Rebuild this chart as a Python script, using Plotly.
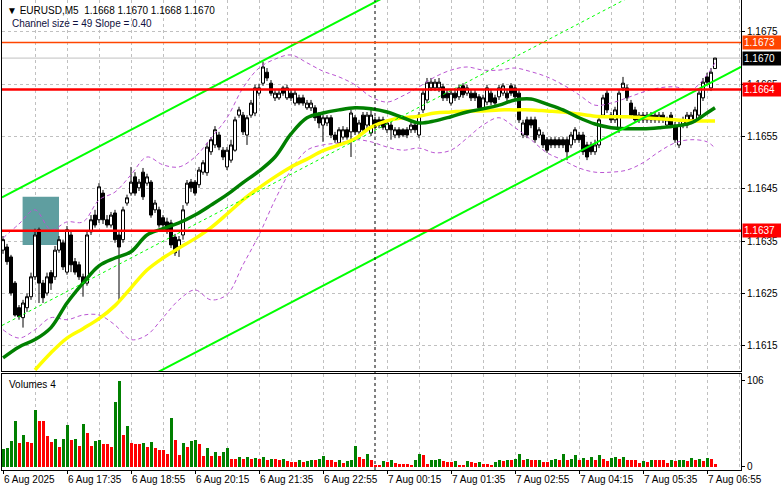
import plotly.graph_objects as go

# ---------------- DATA (EURUSD, M5) ----------------
opens = [1.16333,1.16339,1.16320,1.16270,1.16223,1.16204,1.16223,1.16244,1.16282,1.16372,
         1.16270,1.16251,1.16290,1.16282,1.16333,1.16347,1.16291,1.16362,1.16311,1.16305,
         1.16282,1.16270,1.16368,1.16400,1.16391,1.16442,1.16391,1.16381,1.16404,1.16362,
         1.16353,1.16423,1.16442,1.16473,1.16452,1.16482,1.16461,1.16463,1.16410,1.16410,
         1.16395,1.16387,1.16385,1.16358,1.16339,1.16362,1.16423,1.16463,1.16463,1.16458,
         1.16482,1.16481,1.16521,1.16534,1.16553,1.16524,1.16492,1.16505,1.16524,1.16591,
         1.16591,1.16553,1.16591,1.16595,1.16633,1.16652,1.16673,1.16652,1.16624,1.16624,
         1.16643,1.16624,1.16633,1.16614,1.16624,1.16624,1.16605,1.16605,1.16605,1.16591,
         1.16572,1.16576,1.16586,1.16553,1.16538,1.16549,1.16563,1.16559,1.16586,1.16559,
         1.16591,1.16572,1.16557,1.16582,1.16582,1.16582,1.16563,1.16572,1.16553,1.16563,
         1.16563,1.16563,1.16563,1.16572,1.16553,1.16601,1.16620,1.16643,1.16643,1.16643,
         1.16645,1.16633,1.16614,1.16633,1.16626,1.16647,1.16633,1.16633,1.16633,1.16626,
         1.16605,1.16616,1.16633,1.16624,1.16626,1.16633,1.16633,1.16647,1.16643,1.16633,
         1.16553,1.16582,1.16582,1.16582,1.16553,1.16553,1.16544,1.16544,1.16544,1.16544,
         1.16544,1.16544,1.16534,1.16544,1.16553,1.16553,1.16534,1.16534,1.16521,1.16534,
         1.16591,1.16633,1.16591,1.16582,1.16563,1.16643,1.16643,1.16614,1.16601,1.16582,
         1.16591,1.16591,1.16591,1.16591,1.16582,1.16591,1.16572,1.16591,1.16572,1.16534,
         1.16572,1.16572,1.16582,1.16582,1.16591,1.16624,1.16664,1.16643,1.16680]
highs = [1.16360,1.16345,1.16324,1.16274,1.16228,1.16238,1.16250,1.16290,1.16374,1.16376,
         1.16276,1.16290,1.16295,1.16341,1.16360,1.16353,1.16379,1.16368,1.16318,1.16311,
         1.16288,1.16368,1.16400,1.16410,1.16461,1.16448,1.16400,1.16406,1.16410,1.16368,
         1.16416,1.16439,1.16492,1.16482,1.16469,1.16490,1.16479,1.16467,1.16429,1.16416,
         1.16400,1.16395,1.16391,1.16364,1.16360,1.16419,1.16467,1.16469,1.16467,1.16492,
         1.16505,1.16538,1.16549,1.16570,1.16559,1.16530,1.16530,1.16544,1.16588,1.16607,
         1.16597,1.16591,1.16620,1.16649,1.16651,1.16693,1.16681,1.16658,1.16639,1.16641,
         1.16647,1.16649,1.16639,1.16639,1.16630,1.16630,1.16620,1.16620,1.16610,1.16597,
         1.16591,1.16591,1.16591,1.16559,1.16568,1.16570,1.16568,1.16601,1.16591,1.16582,
         1.16597,1.16597,1.16601,1.16588,1.16588,1.16588,1.16582,1.16578,1.16568,1.16568,
         1.16566,1.16568,1.16578,1.16578,1.16597,1.16639,1.16662,1.16662,1.16660,1.16662,
         1.16651,1.16639,1.16639,1.16639,1.16649,1.16652,1.16649,1.16639,1.16639,1.16631,
         1.16630,1.16649,1.16639,1.16630,1.16649,1.16652,1.16639,1.16652,1.16649,1.16639,
         1.16582,1.16588,1.16588,1.16588,1.16568,1.16559,1.16549,1.16549,1.16549,1.16549,
         1.16549,1.16549,1.16559,1.16568,1.16559,1.16559,1.16540,1.16540,1.16544,1.16588,
         1.16630,1.16639,1.16597,1.16607,1.16639,1.16664,1.16649,1.16620,1.16607,1.16597,
         1.16597,1.16597,1.16597,1.16597,1.16597,1.16597,1.16588,1.16597,1.16578,1.16578,
         1.16588,1.16597,1.16597,1.16607,1.16639,1.16662,1.16672,1.16681,1.16700]
lows = [1.16326,1.16305,1.16246,1.16206,1.16200,1.16185,1.16215,1.16238,1.16276,1.16232,
        1.16232,1.16246,1.16257,1.16276,1.16328,1.16295,1.16286,1.16291,1.16286,1.16276,
        1.16244,1.16265,1.16362,1.16376,1.16385,1.16383,1.16376,1.16376,1.16347,1.16232,
        1.16347,1.16418,1.16437,1.16437,1.16446,1.16429,1.16456,1.16395,1.16404,1.16376,
        1.16372,1.16364,1.16337,1.16322,1.16320,1.16353,1.16418,1.16444,1.16437,1.16452,
        1.16477,1.16475,1.16515,1.16528,1.16524,1.16505,1.16486,1.16500,1.16521,1.16586,
        1.16553,1.16534,1.16586,1.16589,1.16628,1.16647,1.16656,1.16628,1.16618,1.16620,
        1.16628,1.16620,1.16618,1.16609,1.16610,1.16609,1.16601,1.16599,1.16580,1.16566,
        1.16540,1.16570,1.16547,1.16538,1.16532,1.16544,1.16544,1.16511,1.16553,1.16553,
        1.16557,1.16566,1.16551,1.16563,1.16566,1.16563,1.16557,1.16544,1.16547,1.16547,
        1.16549,1.16547,1.16557,1.16557,1.16547,1.16595,1.16614,1.16637,1.16637,1.16635,
        1.16618,1.16618,1.16609,1.16618,1.16620,1.16624,1.16628,1.16618,1.16618,1.16599,
        1.16599,1.16610,1.16610,1.16609,1.16620,1.16628,1.16618,1.16628,1.16620,1.16576,
        1.16547,1.16547,1.16566,1.16538,1.16547,1.16528,1.16519,1.16528,1.16528,1.16528,
        1.16528,1.16505,1.16528,1.16538,1.16538,1.16515,1.16505,1.16515,1.16515,1.16528,
        1.16586,1.16595,1.16576,1.16576,1.16557,1.16637,1.16618,1.16586,1.16576,1.16576,
        1.16576,1.16576,1.16576,1.16576,1.16576,1.16576,1.16566,1.16566,1.16538,1.16528,
        1.16566,1.16566,1.16576,1.16576,1.16586,1.16618,1.16649,1.16637,1.16680]
closes = [1.16353,1.16311,1.16251,1.16209,1.16206,1.16232,1.16244,1.16282,1.16362,1.16270,
          1.16242,1.16282,1.16270,1.16333,1.16353,1.16301,1.16372,1.16305,1.16291,1.16282,
          1.16270,1.16362,1.16391,1.16381,1.16454,1.16391,1.16381,1.16400,1.16353,1.16339,
          1.16410,1.16433,1.16463,1.16442,1.16463,1.16435,1.16473,1.16400,1.16423,1.16381,
          1.16381,1.16372,1.16343,1.16328,1.16353,1.16410,1.16461,1.16452,1.16442,1.16486,
          1.16500,1.16530,1.16544,1.16563,1.16530,1.16511,1.16524,1.16534,1.16582,1.16601,
          1.16559,1.16586,1.16614,1.16643,1.16643,1.16683,1.16662,1.16633,1.16633,1.16633,
          1.16633,1.16643,1.16624,1.16633,1.16614,1.16614,1.16614,1.16614,1.16586,1.16576,
          1.16586,1.16586,1.16553,1.16544,1.16563,1.16563,1.16549,1.16595,1.16559,1.16576,
          1.16563,1.16591,1.16591,1.16568,1.16572,1.16568,1.16576,1.16563,1.16563,1.16553,
          1.16553,1.16553,1.16572,1.16563,1.16591,1.16633,1.16654,1.16654,1.16654,1.16654,
          1.16624,1.16624,1.16633,1.16624,1.16643,1.16630,1.16643,1.16624,1.16624,1.16605,
          1.16624,1.16643,1.16616,1.16614,1.16643,1.16647,1.16624,1.16633,1.16626,1.16582,
          1.16576,1.16553,1.16572,1.16544,1.16563,1.16534,1.16524,1.16534,1.16534,1.16534,
          1.16534,1.16521,1.16553,1.16563,1.16544,1.16521,1.16511,1.16521,1.16534,1.16582,
          1.16624,1.16601,1.16582,1.16601,1.16633,1.16652,1.16624,1.16591,1.16582,1.16591,
          1.16582,1.16582,1.16582,1.16582,1.16591,1.16582,1.16582,1.16572,1.16544,1.16572,
          1.16582,1.16591,1.16591,1.16601,1.16633,1.16654,1.16654,1.16673,1.16700]
volumes = [22,23,32,56,30,39,31,30,70,56,56,38,31,35,25,35,52,33,35,26,
           53,42,26,32,33,28,28,25,80,106,39,50,30,28,28,30,25,31,23,21,
           21,16,60,33,15,30,24,32,33,28,13,23,14,19,14,19,23,10,10,12,
           10,12,10,11,10,12,9,10,10,8,10,7,6,6,8,6,7,8,8,10,
           14,8,8,6,8,5,7,8,26,12,10,16,9,2,2,7,6,8,5,4,
           4,4,3,8,16,15,4,8,9,10,7,6,6,7,3,2,7,6,5,6,
           4,4,3,6,8,7,9,8,10,16,9,10,9,8,9,6,6,8,10,8,
           16,9,10,15,9,11,9,12,8,15,10,7,11,12,10,12,9,9,9,5,
           7,6,9,8,8,8,5,8,7,8,9,7,11,9,10,7,11,10,4]

# indicator readings, sampled every 4 bars (last sample = last bar)
ind_idx = list(range(0, 177, 4)) + [178]
ma_fast = [1.16127,1.16148,1.16162,1.16185,1.16232,1.16270,1.16303,1.16318,1.16330,1.16362,
           1.16374,1.16385,1.16400,1.16419,1.16439,1.16462,1.16484,1.16511,1.16555,1.16586,
           1.16595,1.16601,1.16605,1.16603,1.16597,1.16586,1.16576,1.16580,1.16588,1.16597,
           1.16603,1.16610,1.16620,1.16622,1.16612,1.16601,1.16586,1.16574,1.16567,1.16565,
           1.16565,1.16567,1.16570,1.16576,1.16595,1.16605]
ma_slow = [None,None,1.16104,1.16137,1.16165,1.16183,1.16202,1.16227,1.16261,1.16295,
           1.16318,1.16337,1.16355,1.16376,1.16402,1.16429,1.16452,1.16473,1.16492,1.16507,
           1.16523,1.16534,1.16546,1.16568,1.16580,1.16586,1.16589,1.16595,1.16597,1.16599,
           1.16599,1.16601,1.16601,1.16601,1.16599,1.16597,1.16593,1.16589,1.16588,1.16588,
           1.16586,1.16584,1.16582,1.16580,1.16580,1.16580]
band_up = [1.16356,1.16383,1.16410,1.16372,1.16387,1.16387,1.16429,1.16444,1.16477,1.16511,
           1.16496,1.16492,1.16511,1.16547,1.16586,1.16643,1.16681,1.16698,1.16706,1.16691,
           1.16675,1.16664,1.16649,1.16626,1.16616,1.16628,1.16645,1.16664,1.16677,1.16683,
           1.16677,1.16677,1.16681,1.16674,1.16664,1.16649,1.16630,1.16610,1.16614,1.16624,
           1.16635,1.16643,1.16645,1.16639,1.16668,1.16691]
band_lo = [1.16181,1.16165,1.16181,1.16204,1.16200,1.16209,1.16209,1.16190,1.16162,1.16171,
           1.16204,1.16238,1.16257,1.16238,1.16248,1.16305,1.16362,1.16429,1.16486,1.16524,
           1.16534,1.16538,1.16544,1.16540,1.16530,1.16524,1.16528,1.16519,1.16524,1.16547,
           1.16572,1.16586,1.16567,1.16544,1.16519,1.16505,1.16490,1.16482,1.16482,1.16486,
           1.16500,1.16521,1.16538,1.16544,1.16540,1.16528]

time_labels = ["6 Aug 2025", "6 Aug 17:35", "6 Aug 18:55", "6 Aug 20:15", "6 Aug 21:35",
               "6 Aug 22:55", "7 Aug 00:15", "7 Aug 01:35", "7 Aug 02:55", "7 Aug 04:15",
               "7 Aug 05:35", "7 Aug 06:55"]
label_idx = list(range(0, 177, 16))
grid_minor_idx = list(range(8, 185, 16))
price_ticks = [1.1615, 1.1625, 1.1635, 1.1645, 1.1655, 1.1665, 1.1675]
vol_ticks = [0, 106]

levels = [1.1673, 1.1664, 1.1637]
level_colors = ["#FF4500", "#FF0000", "#FF0000"]
level_widths = [1.5, 2.5, 2.5]

channel_size_pips = 49
channel_slope_pips = 0.40
channel_base = 1.15945          # lower channel line at bar 0
zone_bars = (4.9, 14.0)
zone_prices = (1.16343, 1.16435)
separator_bar = 93
symbol = "EURUSD,M5"

# ---------------- FIGURE ----------------
X_MIN, X_MAX = -0.25, 184.5
Y_MIN, Y_MAX = 1.16102, 1.16811
V_MIN, V_MAX = -3.7, 114.5
n = len(closes)
bars = list(range(n))
FONT = "Liberation Sans, Arial, sans-serif"
GRID = "#C0C0C0"

vol_colors = ["#008000" if (i == 0 or volumes[i] > volumes[i - 1]) else "#FF0000" for i in range(n)]

fig = go.Figure()

fig.add_trace(go.Bar(x=bars, y=volumes, marker=dict(color=vol_colors, line=dict(width=0)),
                     width=0.75, xaxis="x2", yaxis="y2", hoverinfo="skip"))

fig.add_trace(go.Candlestick(
    x=bars, open=opens, high=highs, low=lows, close=closes,
    increasing=dict(line=dict(color="black", width=1), fillcolor="white"),
    decreasing=dict(line=dict(color="black", width=1), fillcolor="black"),
    whiskerwidth=0, xaxis="x", yaxis="y", hoverinfo="skip"))

band_style = dict(color="#BA55D3", width=1, dash="4px,3px")
fig.add_trace(go.Scatter(x=ind_idx, y=band_up, mode="lines", line=dict(shape="spline", **band_style),
                         xaxis="x", yaxis="y", hoverinfo="skip"))
fig.add_trace(go.Scatter(x=ind_idx, y=band_lo, mode="lines", line=dict(shape="spline", **band_style),
                         xaxis="x", yaxis="y", hoverinfo="skip"))
fig.add_trace(go.Scatter(x=ind_idx, y=ma_slow, mode="lines", line=dict(color="#FFFF00", width=3.5, shape="spline"),
                         xaxis="x", yaxis="y", hoverinfo="skip"))
fig.add_trace(go.Scatter(x=ind_idx, y=ma_fast, mode="lines", line=dict(color="#008000", width=3.5, shape="spline"),
                         xaxis="x", yaxis="y", hoverinfo="skip"))

slope = channel_slope_pips / 10000.0
size = channel_size_pips / 10000.0
ch_x = [X_MIN, X_MAX]
ch_lo = [channel_base + slope * x for x in ch_x]
ch_hi = [v + size for v in ch_lo]
ch_mid = [v + size / 2 for v in ch_lo]
for ys, dash, w in ((ch_lo, "solid", 2), (ch_hi, "solid", 2), (ch_mid, "3px,3px", 1)):
    fig.add_trace(go.Scatter(x=ch_x, y=ys, mode="lines", line=dict(color="#00FF00", width=w, dash=dash),
                             xaxis="x", yaxis="y", hoverinfo="skip"))

shapes = []
shapes.append(dict(type="rect", xref="x", yref="y", x0=zone_bars[0], x1=zone_bars[1],
                   y0=zone_prices[0], y1=zone_prices[1], fillcolor="#5F9EA0", line=dict(width=0),
                   layer="between"))
shapes.append(dict(type="line", xref="x", yref="y", x0=X_MIN, x1=X_MAX, y0=closes[-1], y1=closes[-1],
                   line=dict(color="#C0C0C0", width=1), layer="between"))
shapes.append(dict(type="line", xref="x", yref="paper", x0=separator_bar, x1=separator_bar, y0=0, y1=1,
                   line=dict(color="black", width=1, dash="3px,3px"), layer="above"))
for lv, c, w in zip(levels, level_colors, level_widths):
    shapes.append(dict(type="line", xref="x", yref="y", x0=X_MIN, x1=X_MAX, y0=lv, y1=lv,
                       line=dict(color=c, width=w), layer="above"))

annotations = []
for idx, txt in zip(label_idx, time_labels):
    annotations.append(dict(x=idx, xref="x2", y=0, yref="paper", yanchor="top", xanchor="left",
                            yshift=-2, xshift=-1, text=txt, showarrow=False,
                            font=dict(family=FONT, size=10, color="black")))
right_labels = [(levels[0], level_colors[0]), (closes[-1], "#000000"),
                (levels[1], level_colors[1]), (levels[2], level_colors[2])]
for val, bg in right_labels:
    annotations.append(dict(x=1, xref="paper", y=val, yref="y", xanchor="left", yanchor="middle",
                            xshift=1, text=f"{val:.4f}", showarrow=False, bgcolor=bg, width=37, height=11,
                            align="left", borderpad=1, font=dict(family=FONT, size=10, color="white")))
o, h, l, c = opens[-1], highs[-1], lows[-1], closes[-1]
annotations.append(dict(x=0, xref="paper", y=1, yref="paper", xanchor="left", yanchor="top",
                        xshift=3, yshift=-3, showarrow=False, align="left",
                        text="\u25BC\u00a0" + symbol + "\u00a0\u00a0" + f"{o:.4f} {h:.4f} {l:.4f} {c:.4f}",
                        font=dict(family=FONT, size=10, color="black")))
annotations.append(dict(x=0, xref="paper", y=1, yref="paper", xanchor="left", yanchor="top",
                        xshift=8, yshift=-16, showarrow=False, align="left",
                        text=f"Channel size = {channel_size_pips} Slope = {channel_slope_pips:.2f}",
                        font=dict(family=FONT, size=10, color="#101040")))
annotations.append(dict(x=0, xref="paper", y=0.2043, yref="paper", xanchor="left", yanchor="top",
                        xshift=5, yshift=-3, showarrow=False, text=f"Volumes {volumes[-1]}",
                        font=dict(family=FONT, size=10, color="black")))

xcommon = dict(range=[X_MIN, X_MAX], tickvals=label_idx, showgrid=True, gridcolor=GRID, gridwidth=1,
               griddash="3px,3px", showline=True, linecolor="black", linewidth=1, mirror=True,
               zeroline=False, minor=dict(tickvals=grid_minor_idx, showgrid=True, gridcolor=GRID,
                                          griddash="3px,3px", gridwidth=1, ticks=""))

fig.update_layout(
    width=781, height=489, margin=dict(l=2, r=40, t=0, b=19),
    paper_bgcolor="white", plot_bgcolor="white", showlegend=False, hovermode=False,
    font=dict(family=FONT, size=10, color="black"),
    boxgap=0.25, boxgroupgap=0,
    xaxis=dict(domain=[0, 1], anchor="y", rangeslider=dict(visible=False), showticklabels=False,
               ticks="", **xcommon),
    xaxis2=dict(domain=[0, 1], anchor="y2", showticklabels=False, ticks="outside", ticklen=3,
                tickcolor="black", **xcommon),
    yaxis=dict(domain=[0.2106, 1], anchor="x", range=[Y_MIN, Y_MAX], side="right",
               tickvals=price_ticks, ticktext=[f"{v:.4f}" for v in price_ticks],
               ticks="outside", ticklen=3, tickcolor="black", showgrid=True, gridcolor=GRID,
               griddash="3px,3px", showline=True, linecolor="black", mirror=True, zeroline=False,
               tickfont=dict(family=FONT, size=10)),
    yaxis2=dict(domain=[0, 0.2043], anchor="x2", range=[V_MIN, V_MAX], side="right",
                tickvals=vol_ticks, ticktext=[str(v) for v in vol_ticks], ticks="outside", ticklen=3,
                tickcolor="black", showgrid=False, showline=True, linecolor="black", mirror=True,
                zeroline=False, tickfont=dict(family=FONT, size=10)),
    shapes=shapes, annotations=annotations, bargap=0,
)

fig.write_html("out.html", config={"displayModeBar": False, "staticPlot": True},
               post_script="document.body.style.margin='0';document.body.style.overflow='hidden';")
